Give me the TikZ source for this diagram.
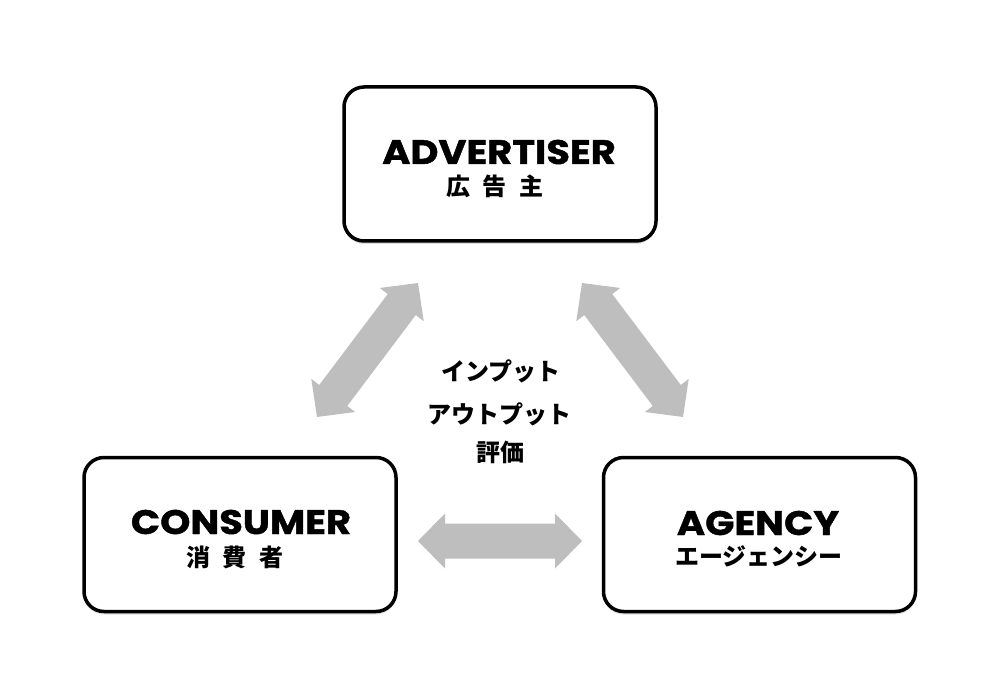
\documentclass[tikz,border=0pt]{standalone}
\usepackage{fontspec}
\newfontfamily\titlefont{Poppins}[BoldFeatures={FakeStretch=1.13, FakeBold=1.2}]
\newfontfamily\cjk{Noto Sans CJK JP}
\usetikzlibrary{calc,shadows}
\definecolor{arrowgray}{RGB}{190,190,190}
\newcommand\dblarrow[2]{%
  \fill[arrowgray]
    (#1) -- ($($(#1)!27pt!(#2)$)!27.5pt!90:(#2)$)
    -- ($($(#1)!27pt!(#2)$)!17.5pt!90:(#2)$)
    -- ($($(#2)!27pt!(#1)$)!17.5pt!-90:(#1)$)
    -- ($($(#2)!27pt!(#1)$)!27.5pt!-90:(#1)$)
    -- (#2)
    -- ($($(#2)!27pt!(#1)$)!27.5pt!90:(#1)$)
    -- ($($(#2)!27pt!(#1)$)!17.5pt!90:(#1)$)
    -- ($($(#1)!27pt!(#2)$)!17.5pt!-90:(#2)$)
    -- ($($(#1)!27pt!(#2)$)!27.5pt!-90:(#2)$)
    -- cycle;}
\begin{document}
\begin{tikzpicture}[x=1pt,y=-1pt,
  box/.style={draw=black, line width=3.5pt, rounded corners=20pt, fill=white,
    minimum width=312pt, minimum height=154pt, inner sep=0pt,
    drop shadow={shadow xshift=0pt, shadow yshift=-3pt, opacity=0.25}},
  title/.style={anchor=base, inner sep=0pt, font=\titlefont\bfseries\fontsize{34}{40}\selectfont},
  jp/.style={anchor=base, inner sep=0pt, font=\cjk\bfseries\fontsize{24}{30}\selectfont},
]
\useasboundingbox (0,0) rectangle (1000,700);
\fill[white] (0,0) rectangle (1000,700);
% boxes
\node[box] (adv) at (500,164) {};
\node[box] (con) at (240,534.5) {};
\node[box] (agy) at (759.5,534.5) {};
% texts
\node[title] (advt) at (499,164) {ADVERTISER};
\node[jp] (advj) at (495,196) {広\hspace{13pt}告\hspace{13pt}主};
\node[title] (cont) at (241,534) {CONSUMER};
\node[jp] (conj) at (235,566) {消\hspace{13pt}費\hspace{13pt}者};
\node[title] (agyt) at (758,535) {AGENCY};
\node[jp] (agyj) at (759,565) {エージェンシー};
% center text
\node[jp] (c1) at (501,380) {インプット};
\node[jp] (c2) at (499,423) {アウトプット};
\node[jp] (c3) at (500,461) {評価};
% arrows
\coordinate (l1) at (418,283);
\coordinate (l2) at (317,417);
\coordinate (r1) at (582,283);
\coordinate (r2) at (683,417);
\coordinate (h1) at (418,541);
\coordinate (h2) at (582,541);
\dblarrow{l1}{l2}
\dblarrow{r1}{r2}
\dblarrow{h1}{h2}
\end{tikzpicture}
\end{document}
